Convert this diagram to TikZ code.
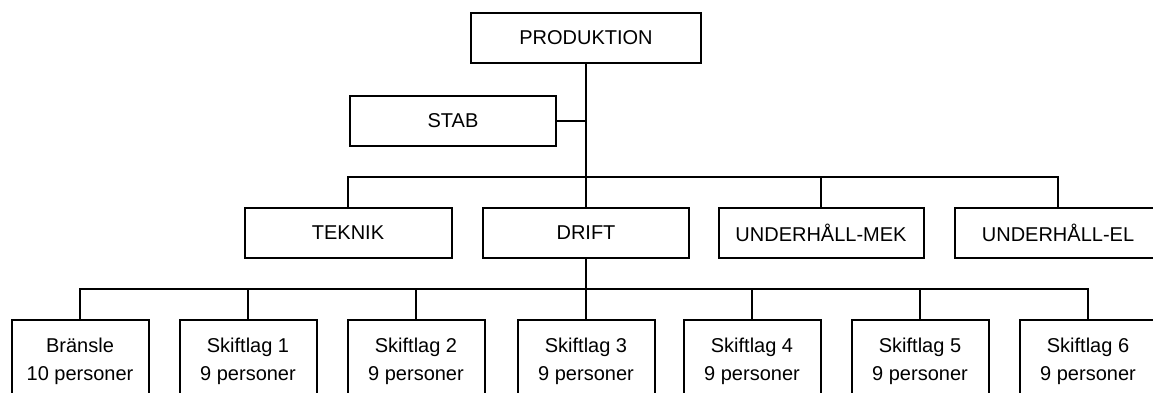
\documentclass[tikz,border=0pt]{standalone}
\usepackage{fontspec}
\setmainfont{Liberation Sans}
\tikzset{
  orgbox/.style={draw, line width=2pt, minimum height=50pt, inner sep=0pt},
  crewbox/.style={draw, line width=2pt, minimum width=137pt, minimum height=82pt,
    inner sep=0pt, align=center},
  orgline/.style={line width=2pt}
}
\begin{document}
\begin{tikzpicture}[x=1pt, y=-1pt, font=\fontsize{20}{28}\selectfont]
      \useasboundingbox (0,0) rectangle (1153,392);
      \node[orgbox, minimum width=230pt] (prod)   at (586,38)  {PRODUKTION};
      \node[orgbox, minimum width=206pt] (stab)   at (453,121) {STAB};
      \node[orgbox, minimum width=207pt] (teknik) at (348,233) {TEKNIK};
      \node[orgbox, minimum width=206pt] (drift)  at (586,233) {DRIFT};
      \node[orgbox, minimum width=205pt] (mek)    at (821,233) {UNDERHÅLL-MEK};
      \node[orgbox, minimum width=206pt] (el)     at (1058,233) {UNDERHÅLL-EL};
      \node[crewbox] (bransle) at (80,361)   {Bränsle\\10 personer};
      \node[crewbox] (lag1)    at (248,361)  {Skiftlag 1\\9 personer};
      \node[crewbox] (lag2)    at (416,361)  {Skiftlag 2\\9 personer};
      \node[crewbox] (lag3)    at (586,361)  {Skiftlag 3\\9 personer};
      \node[crewbox] (lag4)    at (752,361)  {Skiftlag 4\\9 personer};
      \node[crewbox] (lag5)    at (920,361)  {Skiftlag 5\\9 personer};
      \node[crewbox] (lag6)    at (1088,361) {Skiftlag 6\\9 personer};

      \coordinate (bus1) at (586,177);
      \coordinate (bus2) at (586,289);

      \draw[orgline] (prod.south) -- (drift.north);
      \draw[orgline] (stab.east) -- (stab.east -| prod.south);
      \draw[orgline] (teknik.north) -- (teknik.north |- bus1) -- (el.north |- bus1) -- (el.north);
      \draw[orgline] (mek.north) -- (mek.north |- bus1);
      \draw[orgline] (drift.south) -- (lag3.north);
      \draw[orgline] (bransle.north) -- (bransle.north |- bus2) -- (lag6.north |- bus2) -- (lag6.north);
      \draw[orgline] (lag1.north) -- (lag1.north |- bus2);
      \draw[orgline] (lag2.north) -- (lag2.north |- bus2);
      \draw[orgline] (lag4.north) -- (lag4.north |- bus2);
      \draw[orgline] (lag5.north) -- (lag5.north |- bus2);
    \end{tikzpicture}
\end{document}
